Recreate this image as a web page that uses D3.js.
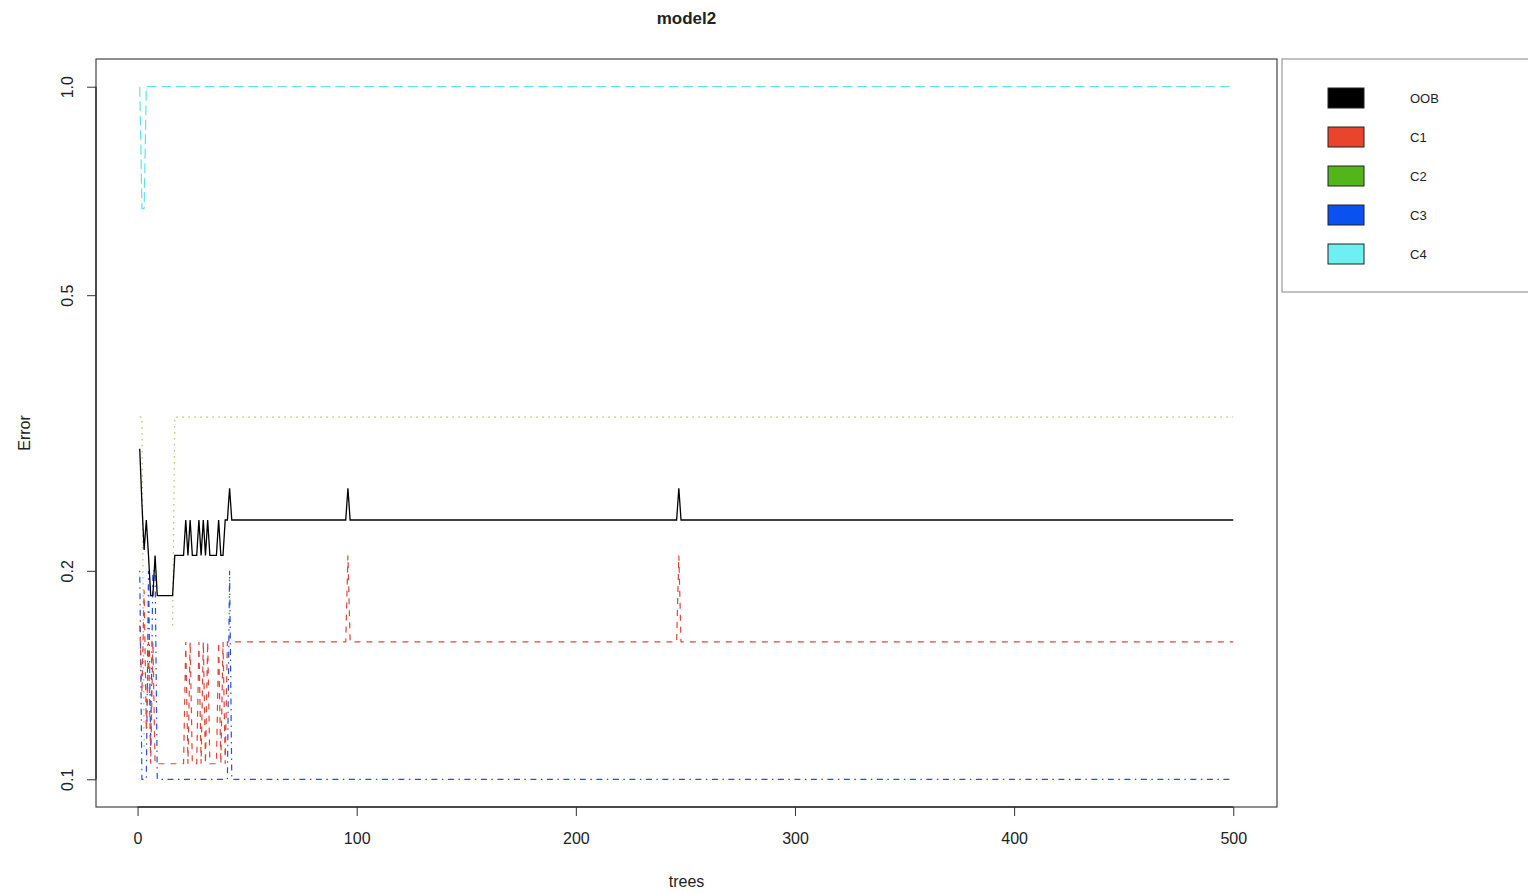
<!DOCTYPE html>
<html>
<head>
<meta charset="utf-8">
<script src="https://cdn.jsdelivr.net/npm/d3@7"></script>
<style>
  body { margin: 0; background: #fff; }
  text { font-family: "Liberation Sans", Arial, Helvetica, sans-serif; fill: #222; }
</style>
</head>
<body>
<div class="chart"></div>
<script>
// error rate per number of trees (null = zero error, not drawn on log axis)
// each entry is [trees, error]; flat runs are given by their end points
var oob = [[1,0.30],[2,0.25],[3,0.2143],[4,0.2368],[5,0.2105],[6,0.1842],[7,0.1842],[8,0.2105],
  [9,0.1842],[16,0.1842],[17,0.2105],[21,0.2105],[22,0.2368],[23,0.2105],[24,0.2368],[25,0.2105],
  [27,0.2105],[28,0.2368],[29,0.2105],[30,0.2368],[31,0.2105],[32,0.2368],[33,0.2105],[36,0.2105],
  [37,0.2368],[38,0.2105],[39,0.2105],[40,0.2368],[41,0.2368],[42,0.2632],[43,0.2368],[95,0.2368],
  [96,0.2632],[97,0.2368],[246,0.2368],[247,0.2632],[248,0.2368],[500,0.2368]];
var c1 = [[1,0.1667],[2,0.1333],[3,0.1875],[4,0.1176],[5,0.1579],[6,0.1053],[7,0.1579],[8,0.1053],
  [21,0.1053],[22,0.1579],[23,0.1053],[24,0.1579],[25,0.1053],[27,0.1053],[28,0.1579],[29,0.1053],
  [30,0.1579],[31,0.1053],[32,0.1579],[33,0.1053],[36,0.1053],[37,0.1579],[38,0.1053],[39,0.1579],
  [40,0.1053],[41,0.1579],[95,0.1579],[96,0.2105],[97,0.1579],[246,0.1579],[247,0.2105],
  [248,0.1579],[500,0.1579]];
var c2 = [[1,0.3333],[2,0.3333],[3,0.1111],[4,null],[15,null],[16,0.1667],[17,0.3333],[500,0.3333]];
var c3 = [[1,0.2],[2,0.1],[4,0.1],[5,0.2],[6,0.1111],[7,0.2],[8,0.2],[9,0.1],[41,0.1],[42,0.2],
  [43,0.1],[500,0.1]];
var c4 = [[1,1.0],[2,0.6667],[3,0.6667],[4,1.0],[500,1.0]];

var seriesNames = ["OOB", "C1", "C2", "C3", "C4"];
var xTicks = [0, 100, 200, 300, 400, 500];
var yTicks = [0.1, 0.2, 0.5, 1.0];

var colors = ["#000000", "#e8452c", "#52b51a", "#0a52f0", "#6ef0f2"];
var lineColors = ["#000000", "#e0453a", "#a8c860", "#2a4ee0", "#5fe3f0"];
var dashes = [null, "6,6", "1.5,4.5", "1.5,4.5,6,4.5", "10,4.5"];

var fullWidth = 1528, fullHeight = 893;
var plotLeft = 96, plotRight = 1277, plotTop = 59, plotBottom = 807;

var svg = d3.select('.chart').append('svg')
  .attr('width', fullWidth)
  .attr('height', fullHeight);

// R-style 4% padding around xlim = c(1, 500), ylim = c(0.1, 1) on log axis
var xScale = d3.scaleLinear()
  .domain([1 - 0.04 * 499, 500 + 0.04 * 499])
  .range([plotLeft, plotRight]);

var yScale = d3.scaleLog()
  .domain([Math.pow(10, -1.04), Math.pow(10, 0.04)])
  .range([plotBottom, plotTop]);

// plot box
svg.append('rect')
  .attr('x', plotLeft).attr('y', plotTop)
  .attr('width', plotRight - plotLeft).attr('height', plotBottom - plotTop)
  .attr('fill', 'none').attr('stroke', '#444').attr('stroke-width', 1.2);

var line = d3.line()
  .defined(function(d) { return d[1] != null; })
  .x(function(d) { return xScale(d[0]); })
  .y(function(d) { return yScale(d[1]); });

var allSeries = [oob, c1, c2, c3, c4];
var plotArea = svg.append('g');
// draw C4 down to OOB so the black line sits on top
for (var i = allSeries.length - 1; i >= 0; i--) {
  plotArea.append('path')
    .datum(allSeries[i])
    .attr('fill', 'none')
    .attr('stroke', lineColors[i])
    .attr('stroke-width', i == 0 ? 1.3 : 1.2)
    .attr('stroke-dasharray', dashes[i])
    .attr('d', line);
}

// x axis
var xAxis = d3.axisBottom(xScale).tickValues(xTicks).tickSize(9).tickPadding(17).tickSizeOuter(0);
var xg = svg.append('g')
  .attr('transform', 'translate(0,' + plotBottom + ')')
  .call(xAxis);
xg.select('.domain').remove();
xg.selectAll('line').attr('stroke', '#333');
xg.selectAll('text').attr('font-size', 16).style('fill', '#222')
  .attr('font-family', '"Liberation Sans", Arial, sans-serif');
xg.append('line')
  .attr('x1', xScale(xTicks[0])).attr('x2', xScale(xTicks[xTicks.length - 1]))
  .attr('stroke', '#333').attr('stroke-width', 1.5);

// y axis, labels parallel to axis as in base R
var yAxis = d3.axisLeft(yScale).tickValues(yTicks).tickFormat(d3.format('.1f')).tickSize(9).tickSizeOuter(0);
var yg = svg.append('g')
  .attr('transform', 'translate(' + plotLeft + ',0)')
  .call(yAxis);
yg.select('.domain').remove();
yg.selectAll('line').attr('stroke', '#333');
yg.selectAll('text')
  .attr('x', null).attr('dy', null)
  .attr('text-anchor', 'middle')
  .attr('font-size', 16).style('fill', '#222')
  .attr('font-family', '"Liberation Sans", Arial, sans-serif')
  .attr('transform', 'translate(-23,0) rotate(-90)');
yg.append('line')
  .attr('y1', yScale(yTicks[0])).attr('y2', yScale(yTicks[yTicks.length - 1]))
  .attr('stroke', '#333').attr('stroke-width', 1.5);

// titles
svg.append('text')
  .attr('x', (plotLeft + plotRight) / 2).attr('y', 24)
  .attr('text-anchor', 'middle')
  .attr('font-size', 17).attr('font-weight', 'bold')
  .text('model2');

svg.append('text')
  .attr('x', (plotLeft + plotRight) / 2).attr('y', 887)
  .attr('text-anchor', 'middle')
  .attr('font-size', 16)
  .text('trees');

svg.append('text')
  .attr('transform', 'translate(30,' + ((plotTop + plotBottom) / 2) + ') rotate(-90)')
  .attr('text-anchor', 'middle')
  .attr('font-size', 16)
  .text('Error');

// legend
var legend = svg.append('g');
legend.append('rect')
  .attr('x', 1282).attr('y', 59)
  .attr('width', 260).attr('height', 233)
  .attr('fill', '#fff').attr('stroke', '#999').attr('stroke-width', 1.2);

var legendY = d3.scalePoint().domain(seriesNames).range([98, 254]);

legend.selectAll('rect.key')
    .data(seriesNames)
  .enter().append('rect')
    .classed('key', true)
    .attr('x', 1328)
    .attr('y', function(d) { return legendY(d) - 10; })
    .attr('width', 36).attr('height', 20)
    .attr('fill', function(d, i) { return colors[i]; })
    .attr('stroke', '#222').attr('stroke-width', 1);

legend.selectAll('text.key')
    .data(seriesNames)
  .enter().append('text')
    .classed('key', true)
    .attr('x', 1410)
    .attr('y', function(d) { return legendY(d) + 5; })
    .attr('font-size', 13)
    .text(function(d) { return d; });
</script>
</body>
</html>
